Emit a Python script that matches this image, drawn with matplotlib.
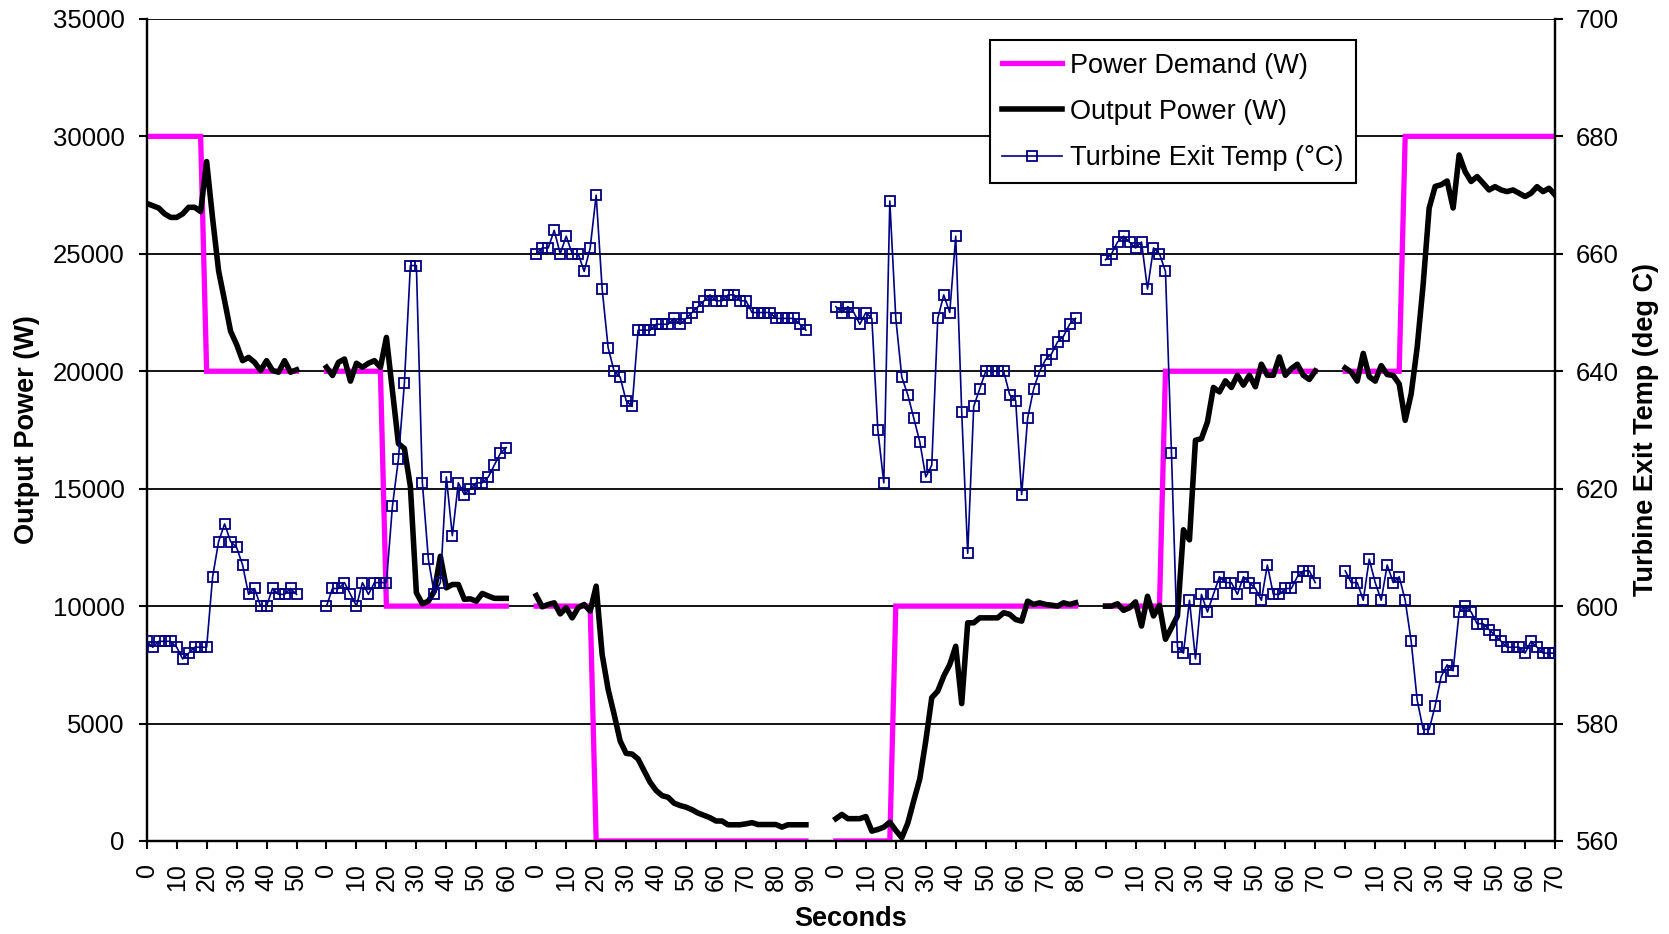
import numpy as np
import matplotlib

matplotlib.use("Agg")
import matplotlib.pyplot as plt
from matplotlib.lines import Line2D

plt.rcParams["font.family"] = ["Liberation Sans", "DejaVu Sans"]

# six test runs, each sampled every 2 s, laid side by side on a category axis
durations = [50, 60, 90, 80, 70, 70]
GAP = 10
STEP = 2

# power demand: breakpoints (time, W) for each run
demand_t = [[0, 18, 20, 50], [0, 18, 20, 60], [0, 18, 20, 90],
            [0, 18, 20, 80], [0, 18, 20, 70], [0, 18, 20, 70]]
demand_w = [[30000, 30000, 20000, 20000], [20000, 20000, 10000, 10000],
            [10000, 10000, 0, 0], [0, 0, 10000, 10000],
            [10000, 10000, 20000, 20000], [20000, 20000, 30000, 30000]]

power1 = [27150, 27050, 26950, 26700, 26550, 26550, 26700, 26980, 26980, 26800,
          28930, 26500, 24270, 23000, 21700, 21140, 20450, 20590, 20380, 20030,
          20450, 20030, 19960, 20450, 19960, 20060]
power2 = [20170, 19820, 20380, 20520, 19580, 20340, 20170, 20340, 20450, 20170,
          21440, 19180, 16920, 16710, 15090, 10570, 10100, 10210, 10640, 12120,
          10780, 10920, 10920, 10290, 10310, 10210, 10540, 10430, 10330, 10330, 10330]
power3 = [10450, 9970, 10070, 10140, 9670, 9930, 9500, 9930, 10070, 9790,
          10850, 7940, 6450, 5390, 4260, 3730, 3700, 3490, 2990, 2500,
          2150, 1930, 1860, 1610, 1510, 1440, 1330, 1190, 1090, 990,
          850, 850, 690, 690, 690, 730, 780, 700, 700, 700,
          700, 590, 690, 690, 690, 690]
power4 = [950, 1130, 950, 950, 950, 1040, 420, 490, 590, 800,
          450, 140, 760, 1720, 2640, 4260, 6100, 6380, 7020, 7510,
          8290, 5850, 9290, 9290, 9500, 9500, 9500, 9500, 9720, 9650,
          9430, 9360, 10210, 10070, 10140, 10070, 10040, 10000, 10140, 10070, 10140]
power5 = [10000, 10000, 10100, 9820, 9930, 10180, 9150, 10420, 9580, 10030,
          8590, 9080, 9580, 13250, 12820, 17060, 17130, 17840, 19310, 19120,
          19590, 19310, 19830, 19410, 19830, 19340, 20300, 19830, 19830, 20610,
          19830, 20110, 20300, 19830, 19650, 20010]
power6 = [20140, 19960, 19580, 20760, 19770, 19580, 20240, 19860, 19820, 19460,
          17910, 19040, 21020, 23700, 26950, 27870, 27940, 28100, 26950, 29210,
          28500, 28080, 28290, 28010, 27720, 27860, 27720, 27650, 27720, 27580,
          27440, 27580, 27860, 27650, 27790, 27510]

temp1 = [594, 593, 594, 594, 594, 593, 591, 592, 593, 593, 593, 605, 611, 614,
         611, 610, 607, 602, 603, 600, 600, 603, 602, 602, 603, 602]
temp2 = [600, 603, 603, 604, 602, 600, 604, 602, 604, 604, 604, 617, 625, 638,
         658, 658, 621, 608, 602, 604, 622, 612, 621, 619, 620, 621, 621, 622,
         624, 626, 627]
temp3 = [660, 661, 661, 664, 660, 663, 660, 660, 657, 661, 670, 654, 644, 640,
         639, 635, 634, 647, 647, 647, 648, 648, 648, 649, 648, 649, 650, 651,
         652, 653, 652, 652, 653, 653, 652, 652, 650, 650, 650, 650, 649, 649,
         649, 649, 648, 647]
temp4 = [651, 650, 651, 650, 648, 650, 649, 630, 621, 669, 649, 639, 636, 632,
         628, 622, 624, 649, 653, 650, 663, 633, 609, 634, 637, 640, 640, 640,
         640, 636, 635, 619, 632, 637, 640, 642, 643, 645, 646, 648, 649]
temp5 = [659, 660, 662, 663, 662, 661, 662, 654, 661, 660, 657, 626, 593, 592,
         601, 591, 602, 599, 602, 605, 604, 604, 602, 605, 604, 603, 601, 607,
         602, 602, 603, 603, 605, 606, 606, 604]
temp6 = [606, 604, 604, 601, 608, 604, 601, 607, 604, 605, 601, 594, 584, 579,
         579, 583, 588, 590, 589, 599, 600, 599, 597, 597, 596, 595, 594, 593,
         593, 593, 592, 594, 593, 592, 592, 592]

powers = [power1, power2, power3, power4, power5, power6]
temps = [temp1, temp2, temp3, temp4, temp5, temp6]

MAGENTA = "#FF00FF"
NAVY = "#000080"


def main():
    offsets = np.cumsum([0] + [d + GAP for d in durations[:-1]])
    total = offsets[-1] + durations[-1]

    fig = plt.figure(figsize=(16.69, 9.34), dpi=100)
    ax = fig.add_axes([0.0879, 0.0996, 0.8438, 0.8801])
    ax2 = ax.twinx()

    for k in range(len(durations)):
        off = offsets[k]
        t = np.arange(0, durations[k] + 1, STEP)
        ax.plot(np.array(demand_t[k]) + off, demand_w[k], color=MAGENTA, lw=3.8,
                solid_joinstyle="miter", zorder=3)
        ax.plot(t + off, powers[k], color="black", lw=4.0, zorder=4,
                solid_joinstyle="round")
        ax2.plot(t + off, temps[k], color=NAVY, lw=1.2, marker="s", ms=6.5,
                 mfc="none", mec=NAVY, mew=1.3, zorder=5)

    ax.set_xlim(0, total)
    ax.set_ylim(0, 35000)
    ax2.set_ylim(560, 700)
    ax.set_yticks(np.arange(0, 35001, 5000))
    ax2.set_yticks(np.arange(560, 701, 20))

    # category-style x ticks: every 10 s, label restarts at each run
    ticks = np.arange(0, total + 1, 10)
    labels = []
    for g in ticks:
        k = max(i for i in range(len(offsets)) if offsets[i] <= g)
        labels.append(str(int(g - offsets[k])))
    ax.set_xticks(ticks)
    ax.set_xticklabels(labels, rotation=90, va="top", ha="center")

    ax.yaxis.grid(True, color="black", lw=1.3)
    ax.set_axisbelow(True)

    for a in (ax, ax2):
        a.spines["top"].set_visible(False)
        for s in ("left", "right", "bottom"):
            a.spines[s].set_linewidth(1.6)
    ax.tick_params(axis="y", direction="out", length=6, width=1.5,
                   labelsize=18.5, pad=10)
    ax.tick_params(axis="x", direction="out", length=6, width=1.5,
                   labelsize=18, pad=10)
    ax2.tick_params(axis="y", direction="out", length=6, width=1.5,
                    labelsize=18.5, pad=9)

    ax.set_xlabel("Seconds", fontsize=19.5, fontweight="bold", labelpad=11)
    ax.set_ylabel("Output Power (W)", fontsize=19.5, fontweight="bold", labelpad=9)
    ax2.set_ylabel("Turbine Exit Temp (deg C)", fontsize=19.5, fontweight="bold",
                   labelpad=10)

    handles = [
        Line2D([], [], color=MAGENTA, lw=3.8),
        Line2D([], [], color="black", lw=4.0),
        Line2D([], [], color=NAVY, lw=1.2, marker="s", ms=6.5, mfc="none", mew=1.3),
    ]
    leg = ax2.legend(handles, ["Power Demand (W)", "Output Power (W)",
                               "Turbine Exit Temp (°C)"],
                     loc="upper left", bbox_to_anchor=(0.599, 0.974),
                     borderaxespad=0, fontsize=19.5, frameon=True, fancybox=False,
                     framealpha=1, edgecolor="black", handlelength=2.2,
                     labelspacing=0.75, borderpad=0.45, handletextpad=0.3)
    leg.get_frame().set_linewidth(1.5)

    fig.savefig("out.png", dpi=100)


if __name__ == "__main__":
    main()
